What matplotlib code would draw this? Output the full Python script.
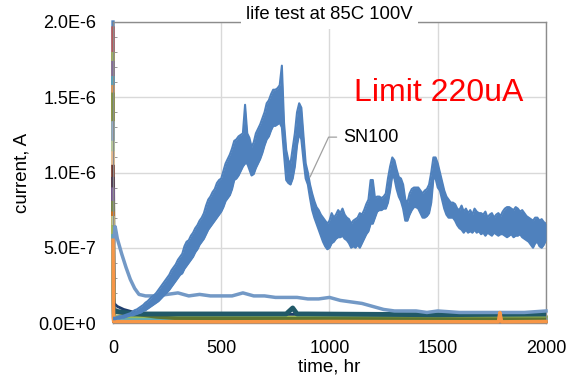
import numpy as np
import matplotlib.pyplot as plt
from matplotlib.ticker import FixedLocator, MultipleLocator

plt.rcParams['font.family'] = ['Liberation Sans', 'DejaVu Sans']
plt.rcParams['path.simplify'] = False

# SN100 leakage current, min / max of the noisy trace every 10 hr (1E-7 A)
sn100_t = np.arange(0, 2001, 10)
sn100_lo = [
    0.25, 0.25, 0.3, 0.3, 0.35, 0.35, 0.4, 0.45, 0.5, 0.5,
    0.55, 0.6, 0.65, 0.7, 0.8, 0.85, 0.95, 1.05, 1.15, 1.25,
    1.35, 1.45, 1.6, 1.75, 1.9, 2.05, 2.2, 2.4, 2.6, 2.8,
    3.0, 3.2, 3.3, 3.6, 3.8, 4.0, 4.2, 4.4, 4.7, 4.9,
    5.2, 5.4, 5.6, 5.9, 6.2, 6.4, 6.6, 6.8, 7.0, 7.2,
    7.4, 7.7, 8.1, 8.3, 8.5, 8.9, 9.5, 9.6, 9.8, 10.1,
    10.4, 10.6, 10.6, 10.2, 9.8, 9.9, 10.3, 10.6, 10.9, 11.3,
    11.8, 12.2, 12.4, 12.8, 13.1, 13.1, 13.2, 13.3, 13.0, 11.2,
    9.5, 9.3, 9.2, 9.6, 10.4, 11.8, 12.6, 12.2, 10.8, 9.6,
    9.2, 8.3, 7.5, 7.0, 6.6, 6.2, 5.8, 5.4, 5.1, 4.9,
    5.0, 5.3, 5.4, 5.6, 5.7, 5.7, 5.8, 5.6, 5.5, 5.3,
    5.0, 5.1, 5.0, 5.2, 5.0, 5.3, 5.6, 5.9, 6.1, 6.6,
    6.6, 7.0, 7.4, 7.5, 7.5, 7.6, 7.6, 8.0, 8.8, 9.8,
    9.6, 8.9, 8.4, 8.1, 7.6, 6.8, 6.8, 7.2, 7.5, 7.7,
    7.7, 7.6, 7.3, 7.0, 7.0, 7.1, 7.3, 8.0, 9.6, 9.6,
    9.0, 8.8, 8.2, 7.6, 7.2, 7.0, 7.0, 7.0, 6.8, 6.5,
    6.3, 6.2, 6.0, 6.2, 6.0, 6.1, 6.0, 6.2, 6.0, 6.1,
    5.9, 6.0, 5.8, 6.0, 5.9, 5.8, 6.0, 5.9, 5.8, 5.9,
    5.9, 5.8, 5.7, 5.8, 5.9, 5.7, 5.8, 5.8, 5.9, 5.7,
    5.6, 5.5, 5.4, 5.2, 5.0, 5.3, 5.4, 5.1, 5.0, 5.2,
    5.5,
]
sn100_hi = [
    0.35, 0.35, 0.4, 0.45, 0.45, 0.5, 0.55, 0.6, 0.65, 0.75,
    0.85, 0.9, 1.0, 1.1, 1.2, 1.35, 1.45, 1.6, 1.75, 1.85,
    2.0, 2.2, 2.4, 2.6, 2.8, 3.0, 3.2, 3.5, 3.7, 3.9,
    4.2, 4.4, 4.6, 5.1, 5.4, 5.5, 5.8, 6.0, 6.3, 6.5,
    6.8, 7.0, 7.3, 7.8, 8.2, 8.4, 8.7, 8.9, 9.3, 9.5,
    9.6, 10.1, 10.6, 10.9, 11.2, 11.6, 12.1, 12.2, 12.4, 12.5,
    12.6, 14.5, 12.6, 12.3, 11.7, 12.0, 12.6, 12.9, 13.2, 13.6,
    14.0, 14.6, 14.8, 15.2, 15.5, 15.5, 15.6, 15.8, 17.1, 13.3,
    11.5, 10.8, 10.6, 11.6, 12.6, 14.0, 14.6, 14.3, 12.4, 10.6,
    10.0, 9.2, 8.6, 8.1, 7.7, 7.5, 7.2, 7.0, 6.8, 6.6,
    6.8, 7.3, 7.0, 7.2, 7.5, 7.3, 7.6, 7.2, 7.0, 6.9,
    6.6, 6.8, 6.9, 7.0, 7.3, 7.2, 7.5, 7.9, 8.2, 9.5,
    9.5, 8.3, 8.4, 8.4, 8.3, 8.4, 8.6, 9.6, 10.4, 11.0,
    10.8, 10.2, 9.7, 9.6, 9.2, 8.2, 8.0, 8.6, 8.9, 9.0,
    9.0, 9.0, 8.8, 8.6, 8.8, 8.9, 9.2, 10.0, 11.0, 11.0,
    10.6, 10.0, 9.4, 8.8, 8.4, 8.2, 8.0, 8.0, 7.9, 7.6,
    7.5, 7.8, 7.4, 7.6, 7.3, 7.5, 7.2, 7.6, 7.4, 7.3,
    7.3, 7.2, 7.4, 7.0, 7.2, 7.3, 7.0, 7.2, 7.3, 7.1,
    7.4, 7.6, 7.7, 7.7, 7.6, 7.5, 7.7, 7.6, 7.4, 7.5,
    7.3, 7.1, 7.0, 6.9, 6.8, 7.0, 7.0, 6.8, 6.9, 6.7,
    6.6,
]

# second sample: high start, settles around 2E-7 then 0.7E-7
lb_t = [0, 10, 20, 40, 60, 80, 100, 120, 150, 200, 250, 300, 350, 400, 450,
        500, 550, 600, 650, 700, 750, 800, 850, 900, 950, 1000, 1050, 1100,
        1150, 1200, 1250, 1300, 1350, 1400, 1450, 1500, 1600, 1700, 1800,
        1900, 2000]
lb_i = [5.0, 6.4, 5.6, 4.6, 3.7, 2.9, 2.3, 1.9, 1.8, 1.8, 1.9, 2.0, 1.8, 1.9,
        1.8, 1.8, 1.8, 2.0, 1.8, 1.8, 1.7, 1.7, 1.7, 1.6, 1.6, 1.7, 1.5, 1.4,
        1.3, 1.1, 0.9, 0.8, 0.8, 0.8, 0.7, 0.8, 0.7, 0.7, 0.7, 0.7, 0.8]

# low-level samples
teal_t = [0, 5, 50, 100, 300, 800, 830, 850, 900, 1500, 2000]
teal_i = [1.0, 0.8, 0.7, 0.6, 0.6, 0.6, 1.0, 0.6, 0.6, 0.55, 0.6]
navy_t = [0, 5, 20, 50, 100, 200, 2000]
navy_i = [2.3, 1.3, 1.1, 0.9, 0.7, 0.6, 0.55]
olive_t = [0, 5, 100, 200, 300, 2000]
olive_i = [0.8, 0.7, 0.6, 0.4, 0.3, 0.25]
orange_t = [0, 3, 500, 1000, 1780, 1787, 1795, 2000]
orange_i = [5.5, 0.1, 0.08, 0.1, 0.08, 0.7, 0.08, 0.1]

# samples that start high at t=0 and drop right away
spike_start = [20.0, 19.6, 17.9, 17.3, 16.3, 15.7, 15.2, 13.3, 12.0, 11.3,
               10.4, 9.6, 8.9, 8.0, 7.3, 7.0, 6.4, 5.8]
spike_low = [0.2, 0.15, 0.3, 0.25, 0.1, 0.2, 0.35, 0.3, 0.15, 0.2,
             0.1, 0.3, 0.2, 0.4, 0.15, 0.25, 0.35, 0.2]
spike_colors = ['#4F81BD', '#C0504D', '#9BBB59', '#8064A2', '#4BACC6',
                '#F79646', '#77933C', '#95B3D7', '#C3D69B', '#FAC090',
                '#632523', '#3F3151', '#8064A2', '#77933C', '#E46C0A',
                '#C3D69B', '#9BBB59', '#4BACC6']

ytick_vals = [0, 5e-7, 1e-6, 1.5e-6, 2e-6]
ytick_labels = ['0.0E+0', '5.0E-7', '1.0E-6', '1.5E-6', '2.0E-6']
xtick_vals = [0, 500, 1000, 1500, 2000]

E7 = 1e-7

fig = plt.figure(figsize=(5.7, 3.76), dpi=100)
ax = fig.add_subplot(111)
fig.subplots_adjust(left=113/570, right=546/570, bottom=53/376, top=354/376)

for s, lo, c in zip(spike_start, spike_low, spike_colors):
    ax.plot([0, 3, 2000], [s*E7, lo*E7, lo*E7], color=c, lw=2.4,
            clip_on=False, zorder=2)

ax.plot(olive_t, np.array(olive_i)*E7, color='#5F7530', lw=2.5, zorder=3)
ax.plot(navy_t, np.array(navy_i)*E7, color='#1F3F6E', lw=2, zorder=3)
ax.plot(teal_t, np.array(teal_i)*E7, color='#215968', lw=3.5, zorder=3)
ax.plot(lb_t, np.array(lb_i)*E7, color='#7399C6', lw=2.5, zorder=4,
        clip_on=False)
ax.plot(orange_t, np.array(orange_i)*E7, color='#F79646', lw=2.5, zorder=5,
        clip_on=False)

# SN100 band: filled between min and max, edges stroked
lo = np.array(sn100_lo)*E7
hi = np.array(sn100_hi)*E7
ax.fill_between(sn100_t, lo, hi, color='#4F81BD', lw=0, zorder=6)
ax.plot(sn100_t, lo, color='#4F81BD', lw=1.5, zorder=6)
ax.plot(sn100_t, hi, color='#4F81BD', lw=1.5, zorder=6)

ax.set_xlim(0, 2000)
ax.set_ylim(0, 2e-6)
ax.xaxis.set_major_locator(FixedLocator(xtick_vals))
ax.yaxis.set_major_locator(FixedLocator(ytick_vals))
ax.set_yticklabels(ytick_labels)
ax.yaxis.set_minor_locator(MultipleLocator(1e-7))
ax.tick_params(axis='both', which='major', length=0, labelsize=13, pad=12)
ax.tick_params(axis='y', which='minor', direction='in', length=3,
               color='#888888')
ax.grid(True, color='#D9D9D9', lw=1)
ax.set_axisbelow(True)
for sp in ax.spines.values():
    sp.set_color('#8C8C8C')
    sp.set_linewidth(1)

ax.set_xlabel('time, hr', fontsize=13.5, labelpad=1)
ax.set_ylabel('current, A', fontsize=13.5, labelpad=6)

ax.text(0.5, 1.024, 'life test at 85C 100V', transform=ax.transAxes,
        ha='center', va='center', fontsize=13.3, zorder=10,
        bbox=dict(facecolor='white', edgecolor='none', pad=4))
ax.text(1506, 15.3*E7, 'Limit 220uA', color='#FF0000', fontsize=23,
        ha='center', va='center', zorder=10)
ax.annotate('SN100', xy=(910, 9.7*E7), xytext=(1065, 12.35*E7),
            fontsize=13, ha='left', va='center', zorder=10,
            arrowprops=dict(arrowstyle='-', color='#A0A0A0', lw=0.9,
                            relpos=(0, 0.5), shrinkA=3, shrinkB=0,
                            connectionstyle='angle,angleA=0,angleB=65,rad=0'))

fig.savefig('out.png', dpi=100)
